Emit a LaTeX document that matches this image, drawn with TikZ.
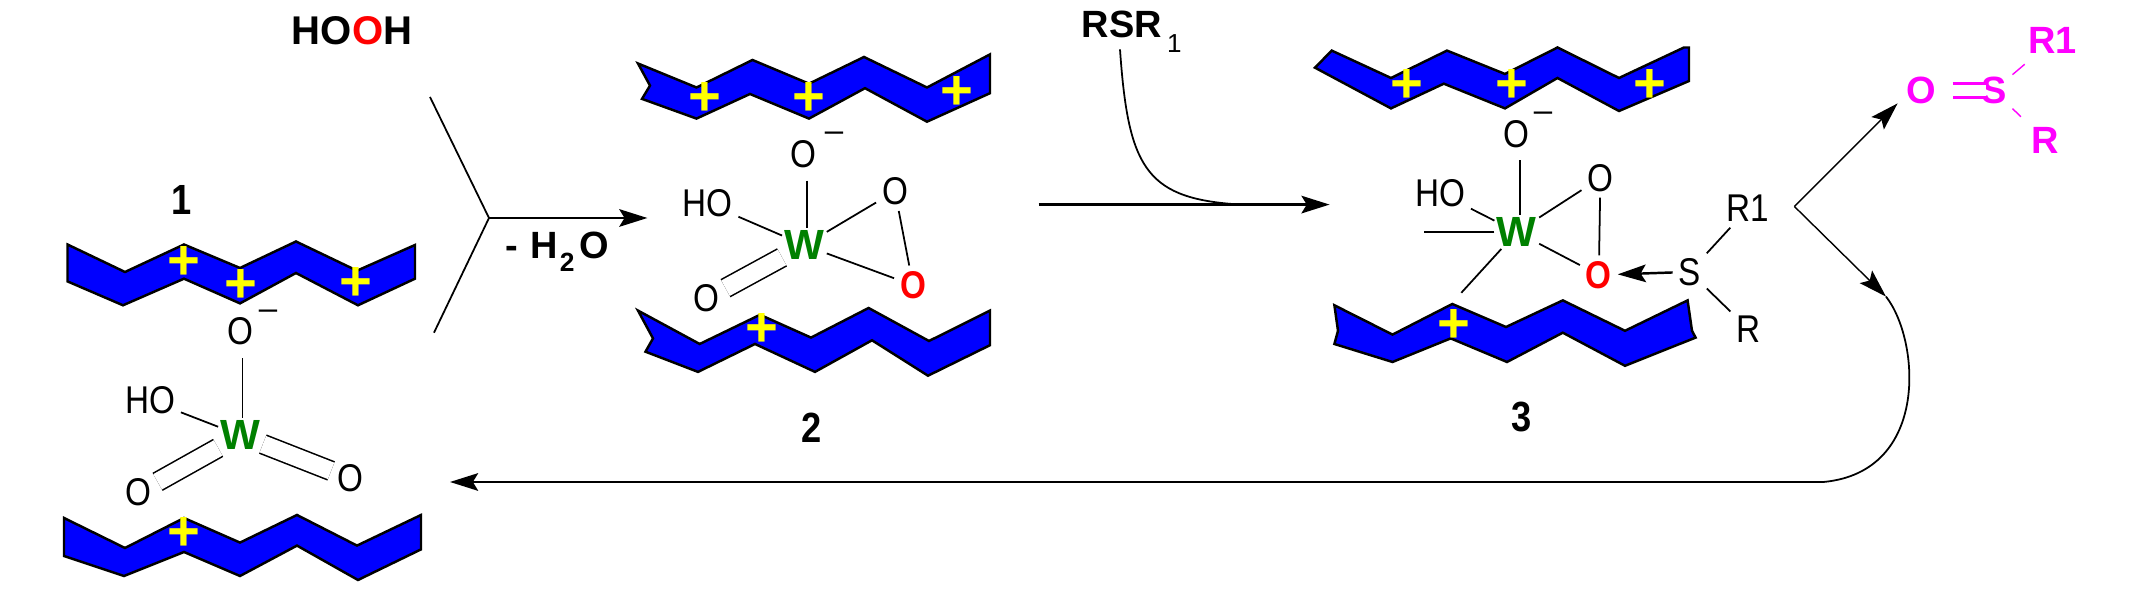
\documentclass[tikz,border=0pt]{standalone}
\usepackage{fontspec}
\setmainfont{Liberation Sans}
\newfontfamily\atomfont[FakeStretch=0.86]{Liberation Sans}
\usetikzlibrary{arrows.meta, positioning, calc}
\definecolor{ribBlue}{HTML}{0000FF}
\definecolor{plusYellow}{HTML}{FFFF00}
\definecolor{metalGreen}{HTML}{008000}
\definecolor{oxoRed}{HTML}{FF0000}
\definecolor{prodMagenta}{HTML}{FF00FF}

\begin{document}
\begin{tikzpicture}[x=0.01cm, y=-0.01cm,
    rib/.style={fill=ribBlue, draw=black, line width=0.7pt, line join=miter},
    atom/.style={inner sep=1.5pt, font=\atomfont\fontsize{11}{13}\selectfont},
    redatom/.style={inner sep=1.5pt, text=oxoRed, font=\atomfont\fontsize{11}{13}\selectfont\bfseries},
    metal/.style={inner sep=0.5pt, text=metalGreen, font=\fontsize{12}{14}\selectfont\bfseries},
    lbl/.style={inner sep=0pt, font=\atomfont\fontsize{12}{14}\selectfont\bfseries},
    prod/.style={inner sep=1.5pt, text=prodMagenta, font=\fontsize{10.8}{12}\selectfont\bfseries},
    chg/.style={inner sep=0pt, font=\fontsize{9.4}{11}\selectfont},
    pluss/.style={inner sep=0pt, text=plusYellow, font=\fontsize{16}{18}\selectfont\bfseries},
    bond/.style={line width=0.5pt},
    dbond/.style={double, double distance=5pt, line width=0.45pt},
    rarr/.style={-{Stealth[length=8pt, width=5pt, inset=1.5pt]}, line width=0.7pt},
    tarr/.style={-{Stealth[length=8pt, width=5pt, inset=1.5pt]}, line width=0.4pt}
  ]
  \useasboundingbox (0,0) rectangle (2129,598);

  % layers of 1
  \draw[rib] (67.5,244.5) -- (125,272) -- (184,244.5) -- (240,268) -- (296,241.5) -- (357,270.7) -- (415,245)
    -- (415,278.7) -- (358,305.3) -- (296,273) -- (240,303.4) -- (184,278.7) -- (123,305.3) -- (67.5,281.4) -- cycle;
  \draw[rib] (64,518) -- (125,548) -- (184,518) -- (240,542.6) -- (297,515) -- (357,545.6) -- (421,515)
    -- (421,549.4) -- (358,580) -- (297,545.6) -- (240,576) -- (184,552) -- (124,576) -- (64,556) -- cycle;

  % layers of 2
  \draw[rib] (638,63.5) -- (696.5,87.5) -- (752.5,60) -- (809,83.7) -- (864,57) -- (927,87.5) -- (990,54.4)
    -- (990,93.2) -- (927,121.7) -- (865,88.2) -- (809,118.6) -- (750,94) -- (696.5,118.6) -- (642,98.9) -- (650,85.6) -- cycle;
  \draw[rib] (638,310.6) -- (699.7,344) -- (760,314.8) -- (811,337.6) -- (868.6,308) -- (929,341) -- (990,310.6)
    -- (990,345.2) -- (928,375.7) -- (872,340.3) -- (815,371.9) -- (755,344) -- (698,371.9) -- (645.5,351.7) -- (653,338.4) -- cycle;

  % layers of 3
  \draw[rib] (1331.7,50.6) -- (1391,78) -- (1447,50.6) -- (1505,74) -- (1557.5,47.5) -- (1619,78) -- (1684,47.5) -- (1689,47.5)
    -- (1689,81) -- (1619,111) -- (1557.5,78) -- (1505,108.4) -- (1443.8,83.7) -- (1391,108.4) -- (1315,67.7) -- cycle;
  \draw[rib] (1334.4,305.3) -- (1392.5,334.6) -- (1452.3,304) -- (1506,327) -- (1562.8,300.4) -- (1625,330.8) -- (1687.6,300.4)
    -- (1692,330.8) -- (1695.6,337.6) -- (1625,365.8) -- (1562.8,332.7) -- (1507,362) -- (1450.7,338.4) -- (1392.5,362)
    -- (1334.4,344) -- (1338,330.8) -- cycle;

  % Layer charges
  \foreach \n/\x/\y in {a/184/263, b/240.5/286, c/356/283.6, d/184/534, e/705/99.2, f/809.4/99.2, g/957/92.8,
      h/761.7/329.7, i/1407.4/86, j/1511.5/86, k/1649.6/86, l/1454.4/326.2} {
    \node[pluss] (p\n) at (\x,\y) {+};
  }

  % Structure 1
  \node[lbl] (n1) at (182,200) {1};
  \node[atom] (o1a) at (240,331.6) {O};
  \node[chg] (m1) at (268,315) {–};
  \node[metal] (w1) at (240.5,435.4) {W};
  \node[atom] (ho1) at (150,400.4) {HO};
  \node[atom] (o1b) at (138.7,492.4) {O};
  \node[atom] (o1c) at (350,478.3) {O};
  \draw[bond, shorten <=2pt] ([xshift=0.7pt]o1a.south) -- ([xshift=0.7pt]o1a.south |- w1.north);
  \draw[bond] (ho1) -- (w1);
  \draw[dbond] (w1) -- (o1b);
  \draw[dbond] (w1) -- (o1c);

  % Peroxide addition
  \node[lbl, font=\fontsize{11.4}{13}\selectfont\bfseries] (hooh) at (352,31) {HO\textcolor{oxoRed}{O}H};
  \coordinate (inT) at (430,97);
  \coordinate (inB) at (434,332.7);
  \coordinate (jn1) at (489,218);
  \coordinate (to2) at (647.4,218);
  \draw[bond] (inT) -- (jn1);
  \draw[bond] (inB) -- (jn1);
  \draw[rarr] (jn1) -- (to2);
  \node[lbl, anchor=base west, font=\fontsize{10.8}{13}\selectfont\bfseries] (water) at (505,259)
    {-\kern3.5pt H\kern0.5pt{\fontsize{7.5}{8}\selectfont\raisebox{-3.7pt}{2}}\kern1.5pt O};

  % Structure 2
  \node[lbl] (n2) at (812,427.8) {2};
  \node[atom] (o2a) at (803.5,154) {O};
  \node[chg] (m2) at (834,137) {–};
  \node[metal] (w2) at (804.4,245.2) {W};
  \node[atom] (ho2) at (707.5,203.4) {HO};
  \node[atom] (o2b) at (895,191.3) {O};
  \node[redatom] (o2c) at (913,285.2) {O};
  \node[atom] (o2d) at (706.6,298.5) {O};
  \draw[bond, shorten <=2pt] ([xshift=1pt]o2a.south) -- ([xshift=1pt]o2a.south |- w2.north);
  \draw[bond] (ho2) -- (w2);
  \draw[bond] (w2) -- (o2b);
  \draw[bond] (w2) -- (o2c);
  \draw[bond] (o2b) -- (o2c);
  \draw[dbond] (w2) -- (o2d);

  % Sulfide attack
  \node[lbl, anchor=base west, font=\fontsize{10.8}{13}\selectfont\bfseries] (rsr) at (1081,38)
    {RSR\kern1.5pt{\fontsize{7.4}{8}\selectfont\mdseries\raisebox{-4pt}{1}}};
  \coordinate (rsrE) at (1120,49.4);
  \coordinate (fr2) at (1038.5,204.6);
  \coordinate (to3) at (1329.6,204.6);
  \coordinate (mrg) at (1232,204);
  \draw[rarr] (fr2) -- (to3);
  \draw[bond] (rsrE) .. controls (1128,165) and (1145,197) .. (mrg);

  % Structure 3
  \node[lbl] (n3) at (1522,417.5) {3};
  \node[atom] (o3a) at (1516.8,133.8) {O};
  \node[chg] (m3) at (1543,116.5) {–};
  \node[metal] (w3) at (1516.8,232) {W};
  \node[atom] (ho3) at (1440,193) {HO};
  \node[atom] (o3b) at (1600.4,178) {O};
  \node[redatom] (o3c) at (1598.8,275) {O};
  \node[atom] (s3) at (1689.7,271.9) {S};
  \node[atom] (r1a) at (1748,208.4) {R1};
  \node[atom] (ra) at (1748.4,329) {R};
  \coordinate (lig1) at (1424,232);
  \coordinate (lig2) at (1461.3,292.8);
  \draw[bond, shorten <=2pt] ([xshift=1pt]o3a.south) -- ([xshift=1pt]o3a.south |- w3.north);
  \draw[bond] (ho3) -- (w3);
  \draw[bond] (w3) -- (o3b);
  \draw[bond] (w3) -- (o3c);
  \draw[bond] (o3b) -- (o3c);
  \draw[bond] (w3) -- (lig1);
  \draw[bond] (w3) -- (lig2);
  \draw[bond] (s3) -- (r1a);
  \draw[bond] (s3) -- (ra);
  \draw[rarr] (s3) -- (o3c);

  % Sulfoxide product
  \node[prod] (po) at (1921.4,90.5) {O};
  \node[prod] (ps) at (1993.8,90.5) {S};
  \node[prod] (pr1) at (2052.5,40.7) {R1};
  \node[prod] (pr) at (2045.6,140.7) {R};
  \draw[dbond, prodMagenta, line width=0.8pt, double distance=3pt, shorten <=3pt, shorten >=-3pt] (po) -- (ps);
  \draw[line width=0.4pt, prodMagenta, shorten >=2pt] (ps) -- (pr1);
  \draw[line width=0.4pt, prodMagenta, shorten >=2pt] (ps) -- (pr);

  % Exit branches and return to 1
  \coordinate (jn3) at (1794.4,206.5);
  \coordinate (toP) at (1897.6,103.4);
  \coordinate (bnd) at (1886,296.6);
  \coordinate (rtn) at (1823.5,482);
  \coordinate (to1) at (450,482);
  \draw[tarr] (jn3) -- (toP);
  \draw[tarr] (jn3) -- (bnd);
  \draw[bond] (bnd) .. controls (1920,340) and (1930,472) .. (rtn);
  \draw[rarr] (rtn) -- (to1);
\end{tikzpicture}
\end{document}
